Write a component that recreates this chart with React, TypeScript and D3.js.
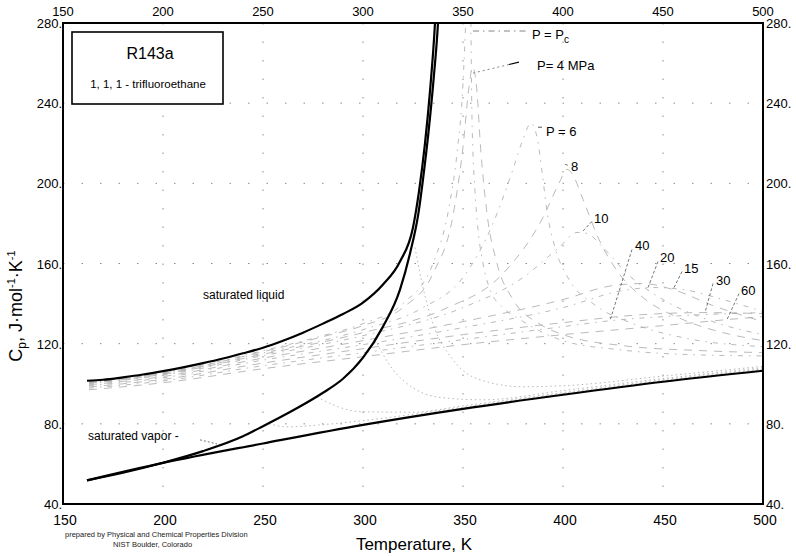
import React from "react";
import * as d3 from "d3";

// ---------- data ----------
const xTicks = [150, 200, 250, 300, 350, 400, 450, 500];
const yTicks = [40, 80, 120, 160, 200, 240, 280];
const yTickLabels = ["40.", "80.", "120.", "160.", "200.", "240.", "280."];

// saturated liquid  [T (K), Cp]
const satLiquid: [number, number][] = [
  [162, 101.5], [170, 102], [180, 103.2], [190, 104.6], [200, 106.3], [210, 108.2],
  [220, 110.3], [230, 112.6], [240, 115.2], [250, 118], [260, 121.5], [270, 125.5],
  [280, 130], [290, 134.8], [300, 140.5], [310, 149.5], [318.5, 161], [325, 178],
  [328, 196], [331, 220], [333.5, 246], [336, 280], [337, 300],
];

// saturated vapor
const satVapor: [number, number][] = [
  [162, 51.8], [180, 55.6], [200, 60.6], [220, 66.4], [240, 73.8], [250, 78.8],
  [260, 84], [270, 89.5], [280, 95.5], [290, 102.5], [300, 113], [310, 128.5],
  [318.5, 147], [323.5, 165], [327.7, 185], [330, 202], [332.8, 226], [335.3, 252],
  [337.5, 280], [338.5, 300],
];

// low-pressure (ideal gas) limit
const idealGas: [number, number][] = [
  [162, 51.8], [200, 60.5], [250, 70.2], [300, 79.5], [350, 87.5], [400, 94.5], [450, 101], [500, 106.5],
];

// isobars (compressed liquid / supercritical)
const isoPc: [number, number][] = [
  [163, 101], [200, 105.5], [250, 116.5], [280, 124], [300, 130], [320, 140], [335, 160],
  [343, 188], [347, 215], [350, 250], [351.5, 285], [352.3, 310], [353.6, 300], [354.5, 232],
  [356, 196], [357.5, 177], [360, 160], [363.5, 147], [370, 138], [378.5, 132], [390, 125.5],
  [400, 121.5], [428, 117], [468, 114.4], [500, 113.9],
];
const iso4: [number, number][] = [
  [163, 100.9], [200, 105.3], [250, 116], [280, 123.5], [300, 129], [320, 138], [335, 155],
  [345, 184], [350, 218], [353, 248], [354.8, 258], [356.6, 250], [359, 215], [362, 185],
  [367, 160], [375, 142], [388, 130], [400, 124.5], [430, 119], [470, 116.5], [500, 115.5],
];
const iso6: [number, number][] = [
  [163, 100.6], [200, 105], [250, 115.3], [300, 127], [330, 138], [350, 153], [365, 180],
  [375, 207], [380, 222], [384, 230], [387, 223], [389.5, 206], [392, 186], [396, 168],
  [403, 152], [415, 140], [435, 130], [460, 123], [500, 118.5],
];
const iso8: [number, number][] = [
  [163, 100.3], [200, 104.7], [250, 114.7], [300, 125.5], [340, 137], [370, 155], [390, 183],
  [398, 200], [402, 207], [405, 204], [410, 192], [418, 172], [428, 155], [440, 143],
  [460, 132], [480, 125.5], [500, 121.5],
];
const iso10: [number, number][] = [
  [163, 100], [200, 104.3], [250, 114], [300, 124], [350, 138], [380, 153], [398, 168],
  [407, 175.5], [412, 175], [420, 168], [432, 155], [450, 142], [475, 131], [500, 124.5],
];
const iso15: [number, number][] = [
  [163, 99.5], [200, 103.6], [250, 112.8], [300, 121.5], [350, 131], [400, 142], [425, 149],
  [440, 150], [455, 147], [475, 139], [500, 131],
];
const iso20: [number, number][] = [
  [163, 99], [200, 103], [250, 111.8], [300, 119.5], [350, 128], [400, 138], [430, 146.5],
  [445, 148], [460, 147], [480, 142], [500, 136],
];
const iso30: [number, number][] = [
  [163, 98.4], [200, 102.2], [250, 110.3], [300, 117.5], [350, 124.5], [400, 130.5], [440, 134.5],
  [470, 135.5], [500, 135],
];
const iso40: [number, number][] = [
  [163, 97.8], [200, 101.4], [250, 109], [300, 115.5], [350, 122], [400, 128.5], [424, 131.5],
  [460, 134], [500, 135.5],
];
const iso60: [number, number][] = [
  [163, 97], [200, 100.5], [250, 107.5], [300, 113.5], [350, 119.5], [400, 124.5], [450, 129],
  [482, 132], [500, 133.5],
];

// vapor-phase isobars
const gas05: [number, number][] = [
  [253, 80], [262, 78.5], [280, 79.6], [300, 81.6], [350, 88.3], [400, 95.1], [450, 101.5], [500, 107],
];
const gas1: [number, number][] = [
  [277, 93.5], [285, 89.5], [300, 86], [325, 85.8], [350, 89], [400, 95.6], [450, 102], [500, 107.4],
];
const gas2: [number, number][] = [
  [306, 122], [315, 107], [325, 98], [340, 93], [360, 92], [400, 96.6], [450, 102.6], [500, 108],
];
const gas3: [number, number][] = [
  [326, 168], [330, 148], [335, 130], [345, 112], [360, 101.5], [380, 98.5], [400, 99], [450, 103.8], [500, 108.7],
];

const isobars = [isoPc, iso4, iso6, iso8, iso10, iso15, iso20, iso30, iso40, iso60];
const gasIsobars = [gas05, gas1, gas2, gas3];

// isobar labels: text, text anchor point (T, Cp), leader from, leader to
const labelTexts = ["8", "10", "40", "20", "15", "30", "60"];
const labelPos: [number, number][] = [
  [404, 207], [415.5, 181], [436, 167.5], [448.5, 161.5], [460.5, 156.5], [476.5, 150.5], [489, 145.5],
];
const leaderFrom: [number, number][] = [
  [401, 209.5], [414.5, 181], [434.5, 167], [447.5, 161], [459.5, 156], [475, 150], [488, 145],
];
const leaderTo: [number, number][] = [
  [402.5, 209], [409.5, 175.7], [423.5, 131.5], [442.5, 148], [455, 147], [471, 135.5], [482, 132],
];

// ---------- layout ----------
const W = 796;
const H = 556;
const x = d3.scaleLinear().domain([150, 500]).range([63, 763]);
const y = d3.scaleLinear().domain([40, 280]).range([504, 23]);

const line = d3
  .line<[number, number]>()
  .x((d) => x(d[0]))
  .y((d) => y(d[1]))
  .curve(d3.curveMonotoneX);

const FONT = "'Liberation Sans', Arial, Helvetica, sans-serif";

export default function App() {
  const [x0, x1] = x.range();
  const [y0, y1] = y.range();
  return (
    <svg
      width={W}
      height={H}
      viewBox={`0 0 ${W} ${H}`}
      style={{ position: "absolute", left: 0, top: 0, background: "#fff" }}
      fontFamily={FONT}
    >
      <defs>
        <clipPath id="plot">
          <rect x={x0} y={y1} width={x1 - x0} height={y0 - y1} />
        </clipPath>
      </defs>
      <rect width={W} height={H} fill="#fff" />

      {/* grid */}
      <g stroke="#8c8c8c" strokeWidth={1} strokeDasharray="1.5,17">
        {xTicks.slice(1, -1).map((t) => (
          <line key={"gx" + t} x1={x(t)} x2={x(t)} y1={y1} y2={y0} />
        ))}
        {yTicks.slice(1, -1).map((t) => (
          <line key={"gy" + t} x1={x0} x2={x1} y1={y(t)} y2={y(t)} />
        ))}
      </g>

      <g clipPath="url(#plot)">
        {/* vapor-phase isobars */}
        {gasIsobars.map((d, i) => (
          <path key={"g" + i} d={line(d) || ""} fill="none" stroke="#a5a5a5" strokeWidth={0.8} strokeDasharray="1.5,3" />
        ))}
        {/* liquid / supercritical isobars */}
        {isobars.map((d, i) => (
          <path
            key={"i" + i}
            d={line(d) || ""}
            fill="none"
            stroke="#a8a8a8"
            strokeWidth={0.8}
            strokeDasharray={i % 2 === 0 ? "5,6,1.5,6" : "8,7"}
          />
        ))}
        {/* ideal gas */}
        <path d={line(idealGas) || ""} fill="none" stroke="#000" strokeWidth={2.2} />
        {/* saturation curves */}
        <path d={line(satLiquid) || ""} fill="none" stroke="#000" strokeWidth={2.2} />
        <path d={line(satVapor) || ""} fill="none" stroke="#000" strokeWidth={2.2} />
      </g>

      {/* frame */}
      <rect x={x0} y={y1} width={x1 - x0} height={y0 - y1} fill="none" stroke="#000" strokeWidth={2} />

      {/* x tick labels */}
      {xTicks.map((t) => (
        <text key={"tt" + t} x={x(t)} y={16} fontSize={13} textAnchor="middle" fill="#000">
          {t}
        </text>
      ))}
      {xTicks.map((t) => (
        <text key={"bt" + t} x={x(t) + 2} y={525} fontSize={14} textAnchor="middle" fill="#000">
          {t}
        </text>
      ))}
      {/* y tick labels */}
      {yTicks.map((t, i) => (
        <text key={"ly" + t} x={x0 - 1} y={y(t) + 5} fontSize={13} textAnchor="end" fill="#000">
          {yTickLabels[i]}
        </text>
      ))}
      {yTicks.map((t, i) => (
        <text key={"ry" + t} x={x1 + 3} y={y(t) + 5} fontSize={13} textAnchor="start" fill="#000">
          {yTickLabels[i]}
        </text>
      ))}

      {/* axis titles */}
      <text x={414} y={550} fontSize={17} textAnchor="middle" fill="#000">
        Temperature, K
      </text>
      <text transform="rotate(-90)" x={-306} y={22} fontSize={18} textAnchor="middle" fill="#000">
        C<tspan fontSize={12} dy={4}>p</tspan>
        <tspan dy={-4}>, J·mol</tspan>
        <tspan fontSize={11} dy={-7}>-1</tspan>
        <tspan dy={7}>·K</tspan>
        <tspan fontSize={11} dy={-7}>-1</tspan>
      </text>

      {/* title box */}
      <rect x={72} y={32} width={151} height={72} fill="#fff" stroke="#000" strokeWidth={1.6} />
      <text x={150} y={59} fontSize={16} textAnchor="middle" fill="#000">
        R143a
      </text>
      <text x={148} y={88} fontSize={11.5} textAnchor="middle" fill="#000">
        1, 1, 1 - trifluoroethane
      </text>

      {/* curve labels */}
      <text x={203} y={299} fontSize={12} fill="#000">
        saturated liquid
      </text>
      <text x={88} y={440} fontSize={12} fill="#000">
        saturated vapor -
      </text>
      <line x1={x(218.5)} y1={y(72)} x2={x(227)} y2={y(70)} stroke="#666" strokeWidth={0.9} strokeDasharray="2,2" />

      {/* P = Pc */}
      <line x1={x(355)} y1={y(276)} x2={x(383)} y2={y(276)} stroke="#777" strokeWidth={0.9} strokeDasharray="6,4,1.5,4" />
      <text x={x(384.5)} y={y(272)} fontSize={13} fill="#000">
        P = P<tspan fontSize={10} dy={4}>c</tspan>
      </text>
      {/* P = 4 MPa */}
      <line x1={x(355)} y1={y(255)} x2={x(376)} y2={y(260)} stroke="#777" strokeWidth={0.9} strokeDasharray="2,3" />
      <line x1={x(373)} y1={y(259.3)} x2={x(378)} y2={y(260.5)} stroke="#000" strokeWidth={1.2} />
      <text x={x(387)} y={y(256.5)} fontSize={13} fill="#000">
        P= 4 MPa
      </text>
      {/* P = 6 */}
      <line x1={x(387.5)} y1={y(228)} x2={x(389.5)} y2={y(228)} stroke="#555" strokeWidth={1} />
      <text x={x(391.5)} y={y(223.5)} fontSize={13} fill="#000">
        P = 6
      </text>

      {labelTexts.map((t, i) => (
        <g key={"lab" + t}>
          <line
            x1={x(leaderFrom[i][0])}
            y1={y(leaderFrom[i][1])}
            x2={x(leaderTo[i][0])}
            y2={y(leaderTo[i][1])}
            stroke="#666"
            strokeWidth={0.9}
            strokeDasharray="3,2"
          />
          <text x={x(labelPos[i][0])} y={y(labelPos[i][1]) + 2} fontSize={13} fill="#000">
            {t}
          </text>
        </g>
      ))}

      {/* credit */}
      <text x={65} y={537} fontSize={7.5} fill="#222">
        prepared by   Physical and Chemical Properties Division
      </text>
      <text x={113} y={547} fontSize={7.5} fill="#222">
        NIST  Boulder, Colorado
      </text>
    </svg>
  );
}
